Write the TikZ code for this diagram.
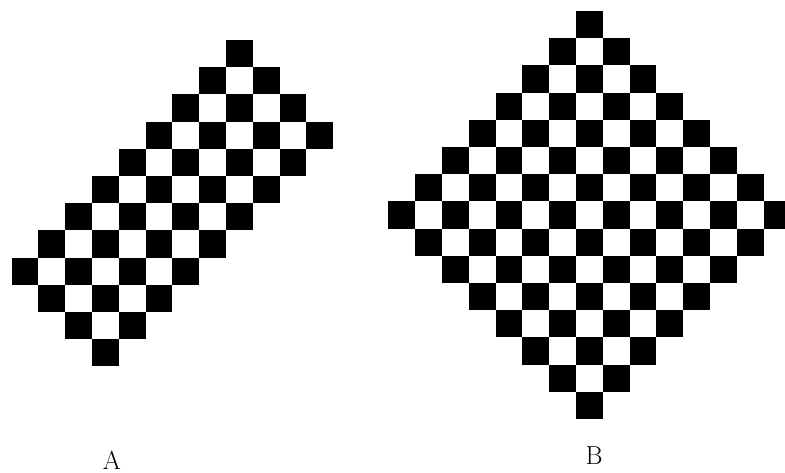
\documentclass[tikz,border=0pt]{standalone}
\begin{document}
\begin{tikzpicture}[x=1pt,y=-1pt,
  cell/.style={fill=black},
  lbl/.style={font=\fontsize{26}{26}\selectfont, inner sep=0pt}]
\useasboundingbox (0,0) rectangle (785,473);
\fill[white] (0,0) rectangle (785,473);
\begin{scope}
\clip (0,0) rectangle (785,473);
% Board A: 4 x 9 black cells
\foreach \p in {0,...,3}{
  \foreach \q in {0,...,8}{
    \fill[cell] ({226+26.8*(\p-\q)},{40+27.2*(\p+\q)}) rectangle ++(26.8,27.2);
  }
}
% Board B: 8 x 8 black cells
\foreach \p in {0,...,7}{
  \foreach \q in {0,...,7}{
    \fill[cell] ({576+26.8*(\p-\q)},{11+27.2*(\p+\q)}) rectangle ++(26.8,27.2);
  }
}
\end{scope}
\node[lbl] (labA) at (112,460) {A};
\node[lbl] (labB) at (594,456) {B};
\end{tikzpicture}
\end{document}
